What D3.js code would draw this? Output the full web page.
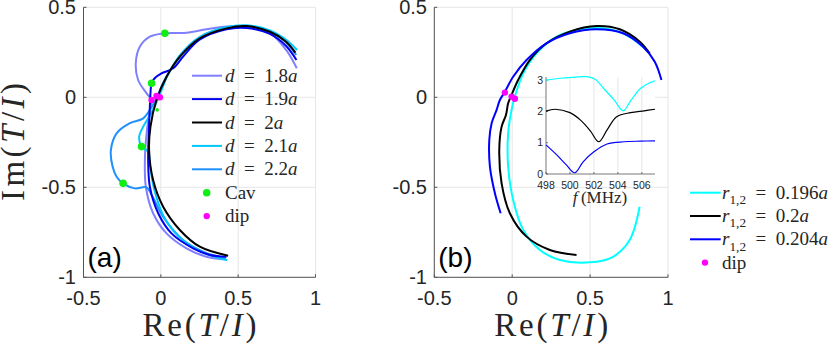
<!DOCTYPE html>
<html lang="en">
<head>
<meta charset="UTF-8">
<title>T/I complex plane</title>
<style>
  body { margin: 0; background: #fff; }
  svg text { fill: #262626; white-space: pre; }
  .tick { font-family: "Liberation Sans", Arial, sans-serif; font-size: 20px; }
  .small { font-family: "Liberation Sans", Arial, sans-serif; font-size: 10.5px; }
  .math { font-family: "Liberation Serif", "Times New Roman", serif; }
  .grid { stroke: #e6e6e6; stroke-width: 1; }
  .axis { stroke: #555; stroke-width: 1; fill: none; }
  .curve { fill: none; stroke-width: 2; stroke-linejoin: round; stroke-linecap: butt; }
</style>
</head>
<body>
<svg width="830" height="346"></svg>
<script src="https://d3js.org/d3.v7.min.js"></script>
<script>
// ---- data: [Re, Im] pairs ----
var xTicks = [-0.5, 0, 0.5, 1];
var yTicks = [-1, -0.5, 0, 0.5];

// panel (a): separation d
var d18 = [[0.403,-0.90],[0.295,-0.886],[0.166,-0.839],[0.037,-0.756],[-0.05,-0.644],[-0.097,-0.497],
  [-0.103,-0.348],[-0.092,-0.2],[-0.071,-0.07],[-0.06,-0.015],[-0.092,0.022],[-0.147,0.096],[-0.162,0.189],
  [-0.136,0.281],[-0.071,0.337],[0.026,0.356],[0.166,0.359],[0.295,0.378],[0.425,0.393],[0.554,0.39],
  [0.705,0.356],[0.81,0.263],[0.879,0.161]];
var d19 = [[0.425,-0.886],[0.317,-0.876],[0.209,-0.839],[0.069,-0.756],[-0.017,-0.644],[-0.071,-0.497],
  [-0.082,-0.348],[-0.078,-0.2],[-0.071,-0.052],[-0.067,0.022],[-0.06,0.078],[-0.04,0.106],[0.004,0.133],
  [0.08,0.161],[0.144,0.226],[0.25,0.32],[0.425,0.378],[0.554,0.385],[0.705,0.352],[0.81,0.285],[0.877,0.207]];
var d20 = [[0.435,-0.88],[0.252,-0.83],[0.123,-0.737],[0.015,-0.608],[-0.05,-0.46],[-0.076,-0.293],
  [-0.067,-0.163],[-0.028,-0.015],[0.037,0.114],[0.123,0.226],[0.252,0.328],[0.425,0.383],[0.554,0.396],
  [0.705,0.364],[0.81,0.309],[0.87,0.248]];
var d21 = [[0.43,-0.905],[0.29,-0.87],[0.15,-0.8],[0.03,-0.68],[-0.04,-0.52],[-0.07,-0.38],[-0.082,-0.302],
  [-0.125,-0.274],[-0.14,-0.219],[-0.114,-0.163],[-0.07,-0.1],[-0.035,-0.04],[0.0,0.03],[0.04,0.115],
  [0.125,0.235],[0.25,0.335],[0.425,0.39],[0.554,0.4],[0.705,0.372],[0.81,0.32],[0.881,0.263]];
var d22 = [[0.42,-0.895],[0.28,-0.86],[0.14,-0.79],[0.02,-0.67],[-0.055,-0.55],[-0.093,-0.5],[-0.168,-0.506],
  [-0.244,-0.478],[-0.286,-0.441],[-0.312,-0.385],[-0.323,-0.293],[-0.286,-0.2],[-0.2,-0.144],[-0.114,-0.117],
  [-0.071,-0.07],[-0.03,-0.01],[0.02,0.09],[0.1,0.2],[0.23,0.315],[0.42,0.385],[0.554,0.395],[0.705,0.365],
  [0.81,0.305],[0.875,0.235]];
var cavA = [[0.026,0.356],[-0.06,0.078],[-0.125,-0.274],[-0.244,-0.478]];
var cavSmallA = [[-0.024,-0.07]];
var dipA = [[-0.06,-0.015],[-0.028,0.007],[-0.006,0]];

// panel (b): radius r_{1,2}
var r196 = [[0.818,-0.608],[0.754,-0.793],[0.647,-0.886],[0.498,-0.917],[0.306,-0.904],[0.178,-0.848],
  [0.071,-0.737],[0.006,-0.57],[-0.026,-0.385],[-0.026,-0.2],[-0.004,-0.07],[0.017,0.004],[0.071,0.133],
  [0.156,0.244],[0.285,0.337],[0.434,0.378],[0.583,0.383],[0.733,0.346],[0.862,0.263]];
var r200 = [[0.413,-0.876],[0.242,-0.848],[0.092,-0.774],[-0.015,-0.644],[-0.068,-0.478],[-0.083,-0.293],
  [-0.068,-0.163],[-0.04,-0.098],[-0.026,-0.033],[-0.004,0.013],[0.038,0.096],[0.113,0.207],[0.22,0.3],
  [0.37,0.365],[0.541,0.396],[0.69,0.378],[0.819,0.309],[0.882,0.244]];
var r204 = [[-0.074,-0.644],[-0.111,-0.533],[-0.143,-0.385],[-0.147,-0.237],[-0.132,-0.144],[-0.1,-0.07],
  [-0.079,-0.015],[-0.047,0.031],[0.006,0.114],[0.092,0.207],[0.22,0.3],[0.37,0.356],[0.541,0.378],
  [0.712,0.356],[0.84,0.281],[0.915,0.198],[0.958,0.096]];
var dipB = [[-0.047,0.026],[-0.004,0.004],[0.017,-0.008]];

// inset: offset spectra vs f (MHz)
var fTicks = [498, 500, 502, 504, 506];
var insetYTicks = [0, 1, 2, 3];
var spec196 = [[498,3.0],[499.2,3.06],[500.3,3.09],[501.4,3.11],[502.1,3.03],[502.8,2.74],[503.7,2.36],
  [504.45,2.02],[505.1,2.36],[505.9,2.74],[506.7,2.92],[507.1,2.98]];
var spec200 = [[498,2.01],[498.76,2.07],[500,1.96],[500.86,1.73],[501.7,1.38],[502.4,1.03],[503.1,1.41],
  [503.9,1.83],[505.06,1.96],[506.2,2.02],[507.1,2.07]];
var spec204 = [[498,0.93],[498.9,0.61],[499.7,0.29],[500.4,0.04],[501.1,0.39],[502,0.71],[503.1,0.96],
  [504.5,1.03],[505.9,1.05],[507.1,1.06]];

var svg = d3.select("svg");

function mathText(g, x, y, parts, size) {
  var t = g.append("text").attr("class", "math").attr("x", x).attr("y", y).style("font-size", size + "px");
  parts.forEach(function(p) {
    var s = t.append("tspan").text(p[0]);
    if (p[1] === "i") s.style("font-style", "italic");
    if (p[1] === "sub") s.style("font-size", (size * 0.7) + "px").attr("dy", size * 0.28);
    if (p[2]) s.attr("dy", p[2]);
  });
  return t;
}

function panel(x0, x1, labelX, tag, showYLabel) {
  var x = d3.scaleLinear().domain([-0.5, 1]).range([x0, x1]);
  var y = d3.scaleLinear().domain([-1, 0.5]).range([277.3, 7.3]);
  var g = svg.append("g");
  g.selectAll(".vg").data(xTicks).enter().append("line").attr("class", "grid")
    .attr("x1", d => x(d)).attr("x2", d => x(d)).attr("y1", y(-1)).attr("y2", y(0.5));
  g.selectAll(".hg").data(yTicks).enter().append("line").attr("class", "grid")
    .attr("x1", x(-0.5)).attr("x2", x(1)).attr("y1", d => y(d)).attr("y2", d => y(d));
  g.append("path").attr("class", "axis")
    .attr("d", "M" + x(-0.5) + "," + y(0.5) + "V" + y(-1) + "H" + x(1));
  g.selectAll(".xt").data(xTicks).enter().append("line").attr("class", "axis")
    .attr("x1", d => x(d)).attr("x2", d => x(d)).attr("y1", y(-1)).attr("y2", y(-1) - 3);
  g.selectAll(".yt").data(yTicks).enter().append("line").attr("class", "axis")
    .attr("x1", x(-0.5)).attr("x2", x(-0.5) + 3).attr("y1", d => y(d)).attr("y2", d => y(d));
  g.selectAll(".xl").data(xTicks).enter().append("text").attr("class", "tick")
    .attr("x", d => x(d)).attr("y", 305).attr("text-anchor", "middle").text(d => d);
  g.selectAll(".yl").data(yTicks).enter().append("text").attr("class", "tick")
    .attr("x", labelX).attr("y", d => y(d)).attr("dy", "0.35em").attr("text-anchor", "end").text(d => d);
  mathText(g, (x0 + x1) / 2, 336, [["Re("], ["T", "i"], ["/"], ["I", "i"], [")"]], 33)
    .attr("text-anchor", "middle").attr("textLength", 114).attr("lengthAdjust", "spacing");
  if (showYLabel) {
    mathText(g, 0, 0, [["Im("], ["T", "i"], ["/"], ["I", "i"], [")"]], 33)
      .attr("text-anchor", "middle").attr("textLength", 118).attr("lengthAdjust", "spacing")
      .attr("transform", "translate(24,142) rotate(-90)");
  }
  g.append("text").attr("class", "tick").attr("x", x0 + 4).attr("y", 267)
    .style("font-size", "28px").style("fill", "#000").text(tag);
  return {g: g, x: x, y: y};
}

function drawCurves(p, series) {
  var line = d3.line().x(d => p.x(d[0])).y(d => p.y(d[1])).curve(d3.curveCatmullRom.alpha(0.5));
  series.forEach(function(s) {
    p.g.append("path").attr("class", "curve").attr("stroke", s.color).attr("d", line(s.data));
  });
}

function drawDots(p, pts, color, r) {
  p.g.selectAll(null).data(pts).enter().append("circle")
    .attr("cx", d => p.x(d[0])).attr("cy", d => p.y(d[1])).attr("r", r).attr("fill", color);
}

// ---- panel (a) ----
var pa = panel(83.5, 315.5, 76, "(a)", true);
drawCurves(pa, [
  {data: d18, color: "#8080ff"},
  {data: d22, color: "#1e90ff"},
  {data: d21, color: "#00c8ff"},
  {data: d19, color: "#0000f0"},
  {data: d20, color: "#000000"}
]);
drawDots(pa, cavA, "#11ee11", 3.8);
drawDots(pa, cavSmallA, "#11ee11", 1.8);
drawDots(pa, dipA, "#ff00ff", 3.2);

var legA = [
  {parts: [["d", "i"], ["\u2002=\u20021.8"], ["a", "i"]], color: "#8080ff"},
  {parts: [["d", "i"], ["\u2002=\u20021.9"], ["a", "i"]], color: "#0000f0"},
  {parts: [["d", "i"], ["\u2002=\u20022"], ["a", "i"]], color: "#000000"},
  {parts: [["d", "i"], ["\u2002=\u20022.1"], ["a", "i"]], color: "#00c8ff"},
  {parts: [["d", "i"], ["\u2002=\u20022.2"], ["a", "i"]], color: "#1e90ff"}
];
legA.forEach(function(e, i) {
  var yy = 75.7 + i * 23.4;
  pa.g.append("line").attr("x1", 192).attr("x2", 222).attr("y1", yy).attr("y2", yy)
    .attr("stroke", e.color).attr("stroke-width", 2);
  mathText(pa.g, 225, yy + 6, e.parts, 19);
});
pa.g.append("circle").attr("cx", 206.7).attr("cy", 75.7 + 5 * 23.4).attr("r", 3.8).attr("fill", "#11ee11");
mathText(pa.g, 225, 75.7 + 5 * 23.4 + 6, [["Cav"]], 19);
pa.g.append("circle").attr("cx", 206.7).attr("cy", 75.7 + 6 * 23.4).attr("r", 3.2).attr("fill", "#ff00ff");
mathText(pa.g, 225, 75.7 + 6 * 23.4 + 6, [["dip"]], 19);

// ---- panel (b) ----
var pb = panel(434.3, 668, 427, "(b)", false);
drawCurves(pb, [
  {data: r196, color: "#00ffff"},
  {data: r200, color: "#000000"},
  {data: r204, color: "#0000ff"}
]);
drawDots(pb, dipB, "#ff00ff", 3.2);

var legB = [
  {parts: [["r", "i"], ["1,2", "sub"], ["\u2002=\u20020.196", null, -5.3], ["a", "i"]], color: "#00ffff"},
  {parts: [["r", "i"], ["1,2", "sub"], ["\u2002=\u20020.2", null, -5.3], ["a", "i"]], color: "#000000"},
  {parts: [["r", "i"], ["1,2", "sub"], ["\u2002=\u20020.204", null, -5.3], ["a", "i"]], color: "#0000ff"}
];
legB.forEach(function(e, i) {
  var yy = 192.7 + i * 23.3;
  svg.append("line").attr("x1", 690).attr("x2", 720.7).attr("y1", yy).attr("y2", yy)
    .attr("stroke", e.color).attr("stroke-width", 2);
  mathText(svg, 722, yy + 6, e.parts, 19);
});
svg.append("circle").attr("cx", 705).attr("cy", 192.7 + 3 * 23.3).attr("r", 3.2).attr("fill", "#ff00ff");
mathText(svg, 722, 192.7 + 3 * 23.3 + 6, [["dip"]], 19);

// ---- inset ----
var ix = d3.scaleLinear().domain([498, 507.1]).range([546, 655]);
var iy = d3.scaleLinear().domain([0, 3.1]).range([174, 77]);
var ig = svg.append("g");
ig.append("rect").attr("x", ix(498)).attr("y", iy(3.1)).attr("width", ix(507.1) - ix(498))
  .attr("height", iy(0) - iy(3.1)).attr("fill", "#fff");
ig.selectAll(null).data(fTicks.slice(1)).enter().append("line").attr("class", "grid")
  .attr("x1", d => ix(d)).attr("x2", d => ix(d)).attr("y1", iy(0)).attr("y2", iy(3.1));
ig.append("path").attr("class", "axis").style("stroke-width", 0.8)
  .attr("d", "M" + ix(498) + "," + iy(3.1) + "V" + iy(0) + "H" + ix(507.1));
ig.selectAll(null).data(fTicks).enter().append("line").attr("class", "axis").style("stroke-width", 0.8)
  .attr("x1", d => ix(d)).attr("x2", d => ix(d)).attr("y1", iy(0)).attr("y2", iy(0) - 2);
ig.selectAll(null).data(insetYTicks).enter().append("line").attr("class", "axis").style("stroke-width", 0.8)
  .attr("x1", ix(498)).attr("x2", ix(498) + 2).attr("y1", d => iy(d)).attr("y2", d => iy(d));
ig.selectAll(null).data(fTicks).enter().append("text").attr("class", "small")
  .attr("x", d => ix(d)).attr("y", 189).attr("text-anchor", "middle").text(d => d);
ig.selectAll(null).data(insetYTicks).enter().append("text").attr("class", "small")
  .attr("x", 543).attr("y", d => iy(d)).attr("dy", "0.35em").attr("text-anchor", "end").text(d => d);
mathText(ig, 600, 203, [["f", "i"], ["\u2009(MHz)"]], 17).attr("text-anchor", "middle");
var iline = d3.line().x(d => ix(d[0])).y(d => iy(d[1])).curve(d3.curveCatmullRom.alpha(0.5));
[[spec196, "#00ffff"], [spec200, "#000000"], [spec204, "#0000ff"]].forEach(function(s) {
  ig.append("path").attr("fill", "none").attr("stroke", s[1]).attr("stroke-width", 1.2).attr("d", iline(s[0]));
});
</script>
</body>
</html>
